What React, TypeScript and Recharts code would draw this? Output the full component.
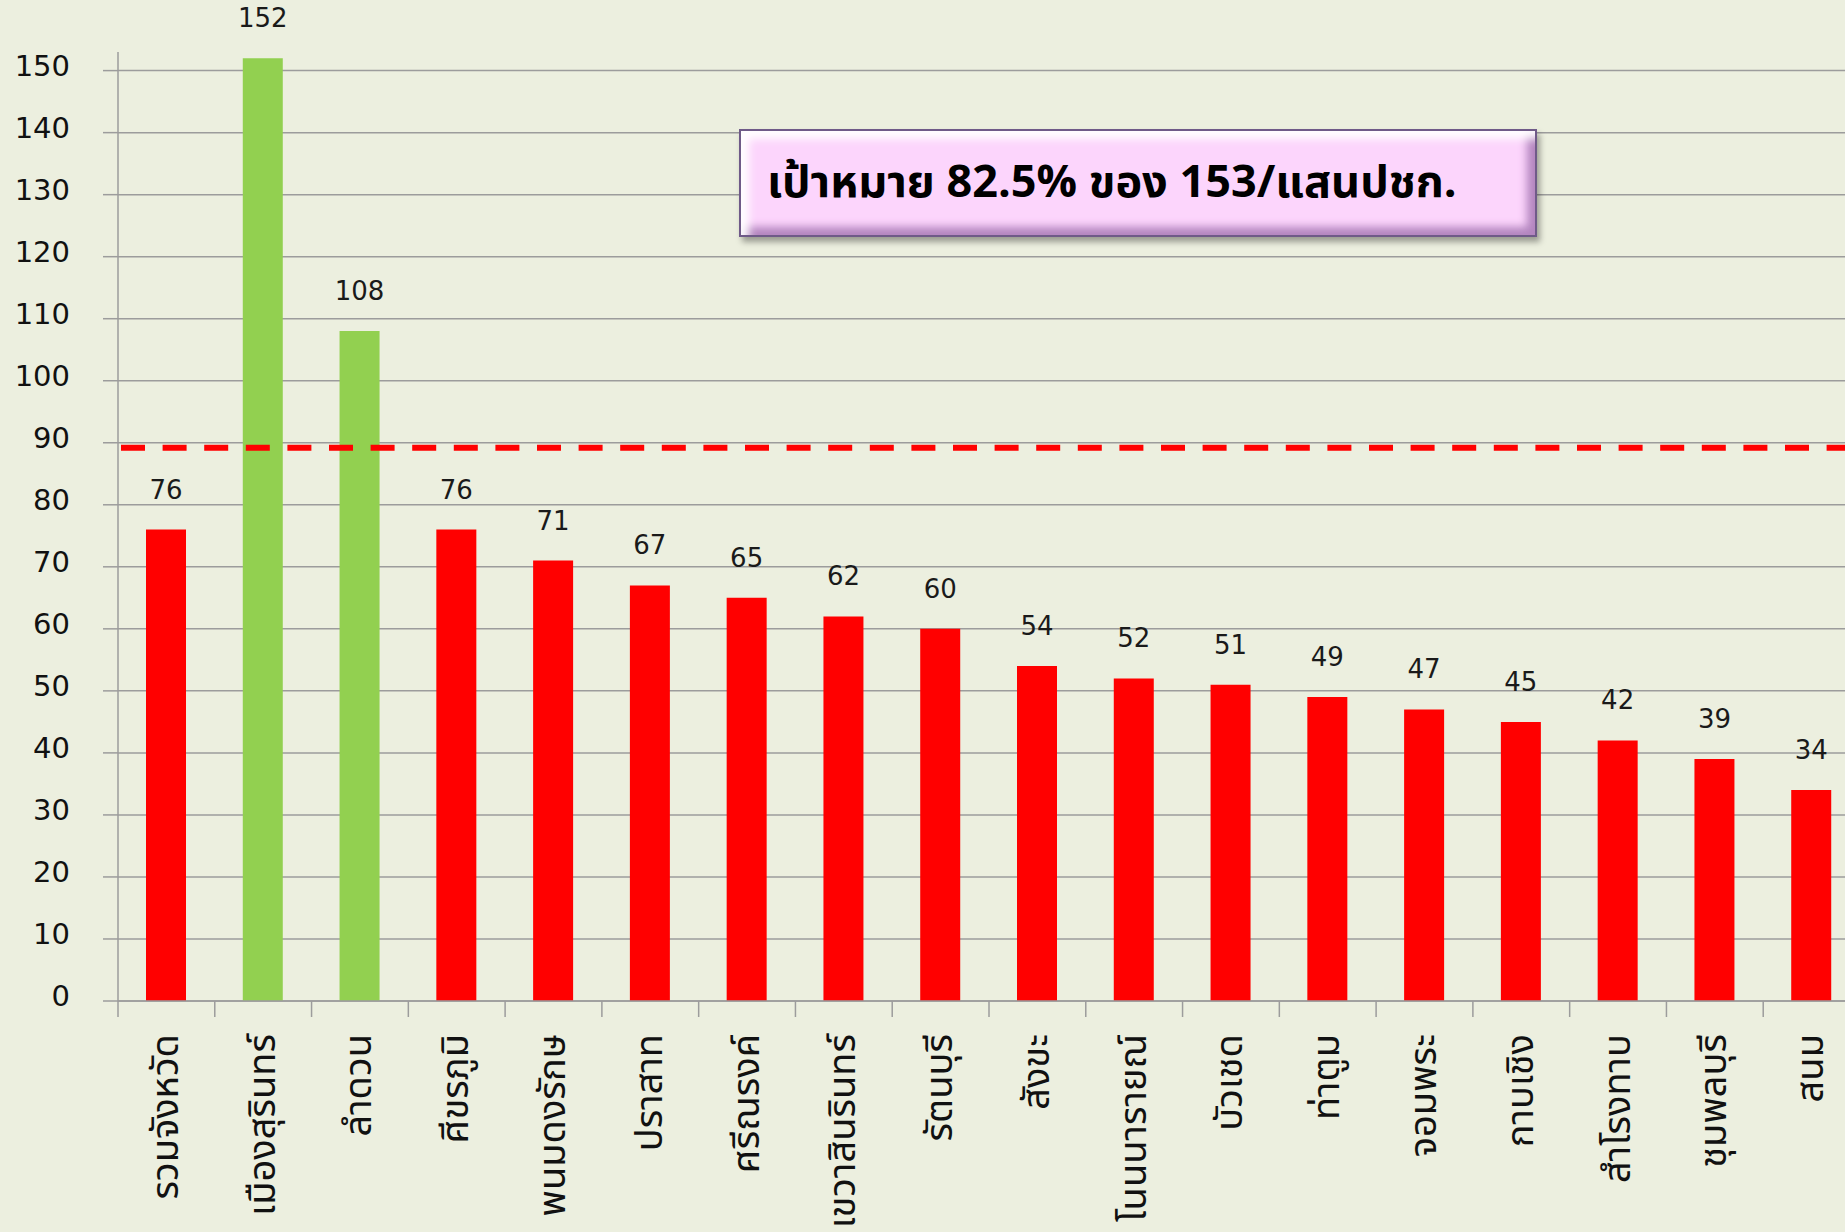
import { Bar, BarChart, CartesianGrid, Cell, LabelList, ReferenceLine, XAxis, YAxis } from "recharts"

const districts = [
  "รวมจังหวัด",
  "เมืองสุรินทร์",
  "ลำดวน",
  "ศีขรภูมิ",
  "พนมดงรักษ",
  "ปราสาท",
  "ศรีณรงค์",
  "เขวาสินรินทร์",
  "รัตนบุรี",
  "สังขะ",
  "โนนนารายณ์",
  "บัวเชด",
  "ท่าตูม",
  "จอมพระ",
  "กาบเชิง",
  "สำโรงทาบ",
  "ชุมพลบุรี",
  "สนม",
]
const rates = [76, 152, 108, 76, 71, 67, 65, 62, 60, 54, 52, 51, 49, 47, 45, 42, 39, 34]
const yTicks = [0, 10, 20, 30, 40, 50, 60, 70, 80, 90, 100, 110, 120, 130, 140, 150]
const yMax = 153
const targetRate = 89.2
const targetText = "เป้าหมาย 82.5% ของ 153/แสนปชก."

const data = districts.map((name, i) => ({ name, rate: rates[i] }))

const CHART_W = 1860
const CHART_H = 1232
const AXIS_W = 118
const TOP = 52
const X_AXIS_H = 231
const bandW = (CHART_W - AXIS_W) / districts.length

const BG = "#ECEFDF"
const GRID = "#9c9c9c"
const RED = "#FF0000"
const GREEN = "#92D050"
const NUM_FONT = "Tahoma, 'DejaVu Sans', sans-serif"
const THAI_FONT = "Tahoma, 'Noto Sans Thai', Loma, Garuda, 'DejaVu Sans', sans-serif"

function DistrictTick({ x, y, payload }: any) {
  const left = x - bandW / 2
  return (
    <g>
      <line x1={left} y1={y} x2={left} y2={y + 16} stroke={GRID} strokeWidth={1.5} />
      <text
        transform={`translate(${x},${y + 33}) rotate(-90)`}
        textAnchor="end"
        dominantBaseline="central"
        fontSize={38}
        fontFamily={THAI_FONT}
        fill="#111"
      >
        {payload.value}
      </text>
    </g>
  )
}

function RateTick({ x, y, payload }: any) {
  return (
    <text
      x={x}
      y={y - 5}
      textAnchor="end"
      dominantBaseline="central"
      fontSize={29}
      fontFamily={NUM_FONT}
      fill="#111"
    >
      {payload.value}
    </text>
  )
}

export default function App() {
  return (
    <div
      style={{
        position: "absolute",
        left: 0,
        top: 0,
        width: 1845,
        height: 1232,
        overflow: "hidden",
        background: BG,
      }}
    >
      <BarChart
        width={CHART_W}
        height={CHART_H}
        data={data}
        margin={{ top: TOP, right: 0, bottom: 0, left: 0 }}
        barSize={40}
      >
        <CartesianGrid
          stroke={GRID}
          strokeWidth={1.5}
          vertical={false}
          horizontalValues={yTicks}
        />
        <XAxis
          dataKey="name"
          height={X_AXIS_H}
          interval={0}
          tickSize={0}
          tickMargin={0}
          tickLine={false}
          axisLine={{ stroke: GRID, strokeWidth: 1.5 }}
          tick={<DistrictTick />}
        />
        <YAxis
          width={AXIS_W}
          domain={[0, yMax]}
          ticks={yTicks}
          tickSize={15}
          tickMargin={33}
          tickLine={{ stroke: GRID, strokeWidth: 1.5 }}
          axisLine={{ stroke: GRID, strokeWidth: 1.5 }}
          tick={<RateTick />}
        />
        <ReferenceLine
          y={targetRate}
          stroke={RED}
          strokeWidth={6}
          strokeDasharray="24 17.6"
          strokeDashoffset={-3}
        />
        <Bar dataKey="rate" isAnimationActive={false}>
          {data.map((d) => (
            <Cell key={d.name} fill={d.rate >= targetRate ? GREEN : RED} />
          ))}
          <LabelList
            dataKey="rate"
            position="top"
            offset={31}
            fontSize={26}
            fontFamily={NUM_FONT}
            fill="#1a1a1a"
          />
        </Bar>
      </BarChart>
      <div
        style={{
          position: "absolute",
          left: 739,
          top: 129,
          width: 798,
          height: 108,
          boxSizing: "border-box",
          border: "2px solid #6f5a88",
          background: "#FCD5FC",
          boxShadow:
            "inset 14px 14px 8px -6px rgba(255,255,255,0.95), inset -14px -14px 8px -6px rgba(130,80,150,0.6), 3px 5px 6px rgba(0,0,0,0.35)",
          display: "flex",
          alignItems: "center",
          paddingLeft: 26,
          fontFamily: THAI_FONT,
          fontSize: 45,
          fontWeight: "bold",
          color: "#000",
          whiteSpace: "nowrap",
        }}
      >
        {targetText}
      </div>
    </div>
  )
}
